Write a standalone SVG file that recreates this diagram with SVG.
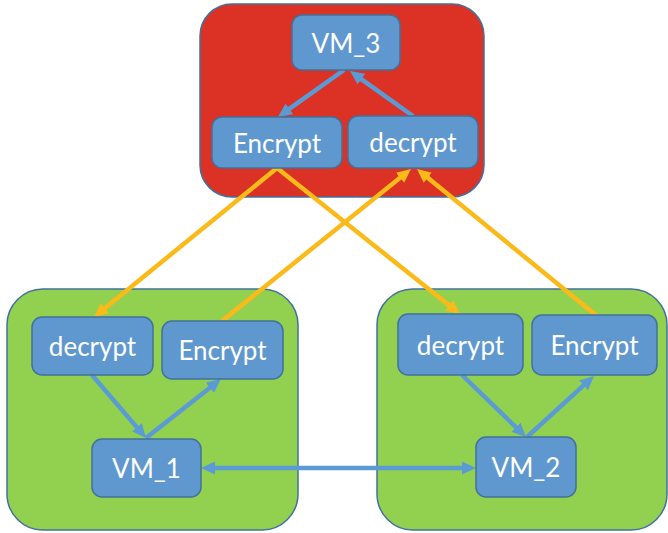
<svg xmlns="http://www.w3.org/2000/svg" width="668" height="533" viewBox="0 0 668 533">
  <style>
    .host { stroke: #41719C; stroke-width: 1.5; }
    .red { fill: #DC3125; }
    .green { fill: #92D050; }
    .box { fill: #5E98CE; stroke: #41719C; stroke-width: 1.5; }
    .lbl { font-family: Lato, "Liberation Sans", sans-serif; font-size: 26px; fill: #FFFFFF; text-anchor: middle; dominant-baseline: central; }
    .blue { stroke: #5B9BD5; stroke-width: 4.5; fill: none; marker-end: url(#arrowBlue); }
    .orange { stroke: #FBBA1A; stroke-width: 4.5; fill: none; marker-end: url(#arrowOrange); }
  </style>
  <defs>
    <marker id="arrowBlue" markerUnits="userSpaceOnUse" markerWidth="14" markerHeight="13" refX="4" refY="6.5" orient="auto-start-reverse" viewBox="0 0 14 13">
      <path d="M0,0 L14,6.5 L0,13 z" fill="#5B9BD5"/>
    </marker>
    <marker id="arrowOrange" markerUnits="userSpaceOnUse" markerWidth="14" markerHeight="13" refX="4" refY="6.5" orient="auto" viewBox="0 0 14 13">
      <path d="M0,0 L14,6.5 L0,13 z" fill="#FBBA1A"/>
    </marker>
  </defs>

  <!-- host containers -->
  <g id="host-top"><rect class="host red" x="200" y="4" width="284" height="193" rx="32"/></g>
  <g id="host-left"><rect class="host green" x="7" y="289" width="291" height="241" rx="36"/></g>
  <g id="host-right"><rect class="host green" x="377" y="289" width="290" height="241" rx="36"/></g>

  <!-- connectors -->
  <g id="connectors">
    <line class="blue" x1="344" y1="70" x2="286.1" y2="111.2"/>
    <line class="blue" x1="413" y1="116" x2="358.1" y2="76.8"/>
    <line class="blue" x1="92" y1="375" x2="139.5" y2="430.4"/>
    <line class="blue" x1="146" y1="438" x2="213.1" y2="385.2"/>
    <line class="blue" x1="211" y1="468" x2="466" y2="468" marker-start="url(#arrowBlue)"/>
    <line class="blue" x1="462" y1="375" x2="518.8" y2="430"/>
    <line class="blue" x1="527" y1="437" x2="586.6" y2="382.7"/>
    <line class="orange" x1="277" y1="168" x2="101.8" y2="310.7"/>
    <line class="orange" x1="277" y1="168" x2="452.2" y2="307.8"/>
    <line class="orange" x1="222" y1="321" x2="403.2" y2="175.3"/>
    <line class="orange" x1="597" y1="316" x2="424.7" y2="175.3"/>
  </g>

  <!-- nodes -->
  <g id="vm3"><rect class="box" x="292" y="15" width="108" height="55" rx="10"/><text class="lbl" x="346" y="42.5">VM_3</text></g>
  <g id="top-encrypt"><rect class="box" x="212" y="117" width="130" height="51" rx="10"/><text class="lbl" x="277" y="142.5">Encrypt</text></g>
  <g id="top-decrypt"><rect class="box" x="348" y="116" width="130" height="52" rx="10"/><text class="lbl" x="413" y="142">decrypt</text></g>
  <g id="left-decrypt"><rect class="box" x="32" y="317" width="121" height="58" rx="10"/><text class="lbl" x="92.5" y="346">decrypt</text></g>
  <g id="left-encrypt"><rect class="box" x="162" y="321" width="121" height="58" rx="10"/><text class="lbl" x="222.5" y="350">Encrypt</text></g>
  <g id="vm1"><rect class="box" x="92" y="439" width="109" height="58" rx="10"/><text class="lbl" x="146.5" y="468">VM_1</text></g>
  <g id="right-decrypt"><rect class="box" x="398" y="314" width="125" height="61" rx="10"/><text class="lbl" x="460.5" y="344.5">decrypt</text></g>
  <g id="right-encrypt"><rect class="box" x="532" y="315" width="125" height="60" rx="10"/><text class="lbl" x="594.5" y="345">Encrypt</text></g>
  <g id="vm2"><rect class="box" x="476" y="437" width="100" height="60" rx="10"/><text class="lbl" x="526" y="467">VM_2</text></g>
</svg>
